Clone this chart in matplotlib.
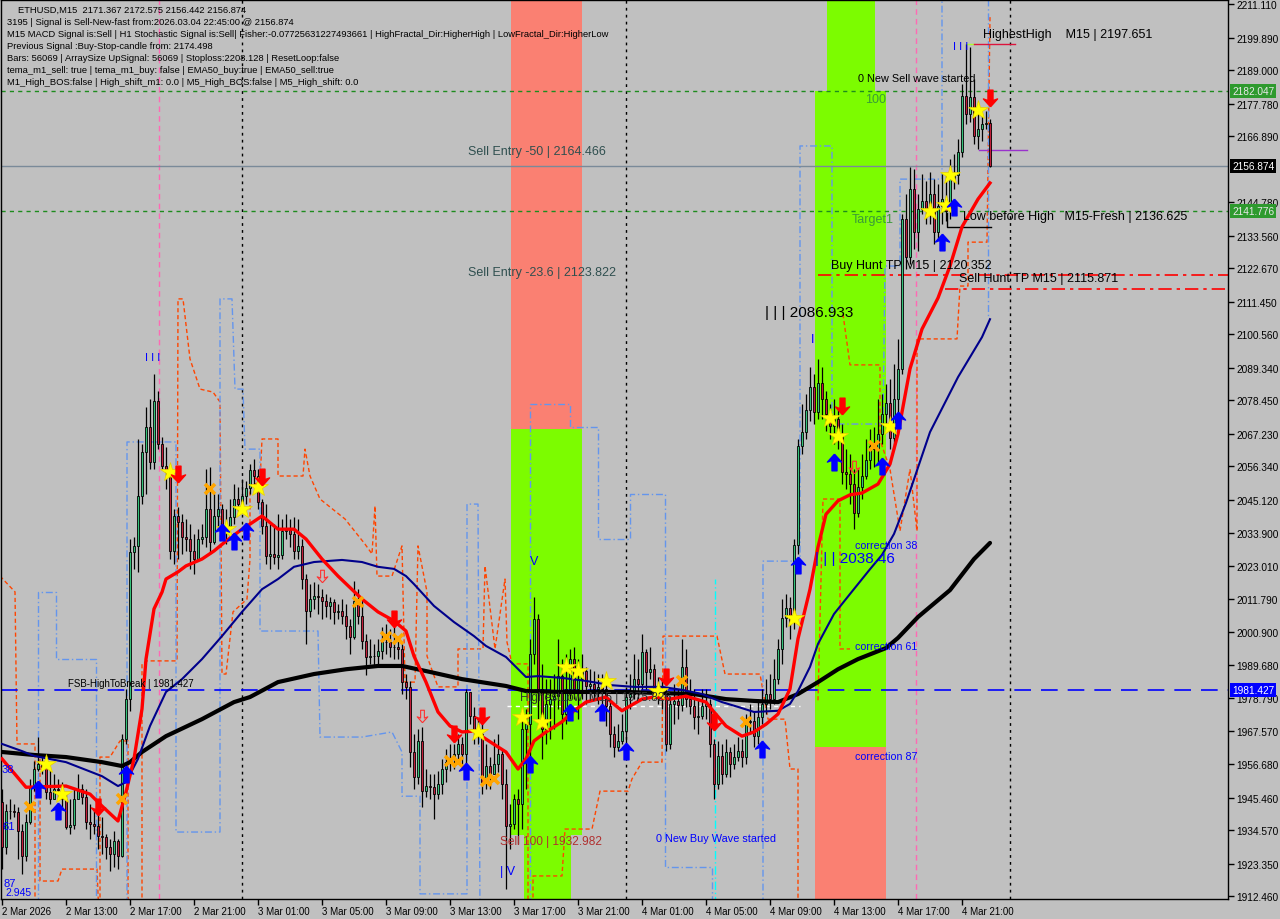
import numpy as np
import matplotlib.pyplot as plt
from matplotlib.path import Path
from matplotlib.patches import Rectangle

plt.rcParams['font.family'] = ['Liberation Sans', 'DejaVu Sans']

# --- candles (ETHUSD M15), bar 0 = 2 Mar 09:00 ---
first_open = 1943.9
last_open = 2171.367
closes = [
    1928.9, 1940.9, 1940.9, 1940.6, 1934.2, 1925.9, 1937.3, 1949.3, 1955.0, 1956.7,
    1955.7, 1947.3, 1945.0, 1948.3, 1948.0, 1945.0, 1935.6, 1936.3, 1945.0, 1948.3,
    1945.6, 1937.3, 1936.6, 1935.9, 1932.6, 1932.2, 1928.9, 1926.5, 1930.9, 1925.9,
    1965.0, 1978.4, 2027.7, 2029.7, 2046.4, 2061.1, 2069.5, 2057.8, 2078.2, 2063.8,
    2056.4, 2054.4, 2028.0, 2039.7, 2037.7, 2032.7, 2032.0, 2028.0, 2025.3, 2032.0,
    2032.7, 2042.0, 2031.0, 2039.7, 2042.0, 2035.3, 2036.4, 2039.4, 2045.4, 2043.7,
    2046.4, 2049.1, 2055.1, 2053.1, 2044.4, 2036.4, 2026.3, 2027.0, 2026.0, 2026.7,
    2034.7, 2035.0, 2033.7, 2028.0, 2029.7, 2018.6, 2007.9, 2011.9, 2012.9, 2012.6,
    2011.2, 2009.6, 2010.9, 2007.6, 2007.9, 2006.2, 2002.9, 1999.2, 2011.2, 2006.2,
    1997.9, 1992.5, 1992.8, 1992.8, 1994.5, 1997.5, 1997.5, 1995.8, 1995.8, 1995.2,
    1984.1, 1982.5, 1960.7, 1952.3, 1964.4, 1947.6, 1949.3, 1949.0, 1946.6, 1950.0,
    1955.0, 1957.3, 1958.4, 1960.0, 1963.4, 1960.0, 1980.8, 1972.7, 1967.4, 1966.7,
    1950.6, 1956.0, 1953.3, 1956.7, 1960.0, 1950.0, 1935.9, 1936.6, 1945.0, 1943.3,
    1968.4, 1970.1, 1993.5, 2005.2, 1981.8, 1968.4, 1976.8, 1978.4, 1979.4, 1986.1,
    1973.4, 1981.8, 1991.8, 1981.8, 1985.1, 1987.8, 1982.8, 1983.4, 1981.8, 1982.5,
    1981.8, 1976.1, 1966.7, 1962.4, 1964.4, 1967.7, 1979.1, 1980.1, 1985.1, 1983.4,
    1994.2, 1987.5, 1988.5, 1981.8, 1981.1, 1980.1, 1963.4, 1976.8, 1977.8, 1976.4,
    1989.2, 1978.4, 1976.1, 1972.4, 1972.7, 1976.1, 1976.8, 1963.4, 1950.0, 1959.4,
    1953.3, 1960.7, 1956.7, 1959.0, 1961.0, 1959.0, 1970.7, 1971.1, 1966.0, 1972.4,
    1976.8, 1980.1, 1978.4, 1985.1, 1995.2, 2005.6, 2008.9, 2004.2, 2030.0, 2063.1,
    2067.8, 2075.2, 2082.9, 2074.5, 2084.2, 2078.9, 2073.9, 2069.8, 2072.2, 2066.5,
    2054.4, 2053.8, 2050.4, 2040.7, 2049.4, 2053.1, 2058.5, 2063.1, 2062.1, 2067.2,
    2073.9, 2077.5, 2065.8, 2078.9, 2088.9, 2139.1, 2126.4, 2149.2, 2134.8, 2142.5,
    2145.2, 2142.5, 2147.5, 2134.8, 2143.5, 2145.8, 2141.8, 2152.5, 2153.9, 2161.6,
    2180.3, 2174.3, 2180.0, 2167.0, 2169.3, 2171.0, 2171.367, 2156.874]
highs = [
    1948.3, 1943.3, 1945.0, 1943.3, 1942.3, 1936.6, 1939.9, 1951.7, 1957.7, 1965.7,
    1960.0, 1958.4, 1955.0, 1953.3, 1951.7, 1950.6, 1946.6, 1945.0, 1948.3, 1953.3,
    1949.9, 1948.3, 1943.3, 1941.6, 1940.9, 1938.9, 1933.3, 1931.6, 1934.3, 1931.6,
    1966.7, 1981.8, 2032.0, 2032.7, 2065.5, 2063.8, 2076.2, 2078.9, 2087.2, 2081.5,
    2066.2, 2062.8, 2056.1, 2042.0, 2042.7, 2040.3, 2038.7, 2037.0, 2033.7, 2035.3,
    2037.0, 2055.4, 2056.1, 2047.1, 2047.1, 2043.8, 2042.0, 2045.4, 2050.4, 2049.4,
    2052.1, 2051.4, 2057.1, 2058.8, 2055.4, 2045.4, 2043.8, 2037.0, 2037.0, 2040.3,
    2038.7, 2040.3, 2038.7, 2039.3, 2038.7, 2032.0, 2020.3, 2016.9, 2017.6, 2016.9,
    2015.2, 2013.6, 2012.6, 2011.9, 2010.2, 2011.9, 2010.2, 2005.2, 2017.9, 2015.2,
    2011.9, 2000.2, 1998.6, 1996.9, 1998.6, 2002.6, 2003.6, 2001.9, 2002.6, 1998.6,
    1996.9, 1986.8, 1984.5, 1966.7, 1968.4, 1969.1, 1955.0, 1953.3, 1953.3, 1954.4,
    1958.4, 1961.7, 1963.4, 1963.4, 1966.7, 1965.7, 1981.8, 1980.1, 1975.8, 1971.7,
    1971.0, 1963.4, 1959.0, 1965.0, 1966.7, 1961.7, 1955.0, 1943.3, 1946.6, 1948.3,
    1971.7, 1975.1, 1998.6, 2012.6, 2006.9, 1990.1, 1985.1, 1985.1, 1986.8, 1998.6,
    1991.8, 1993.5, 1995.1, 1995.8, 1991.8, 1993.5, 1989.1, 1988.4, 1987.8, 1986.8,
    1986.8, 1985.1, 1978.4, 1969.4, 1970.0, 1973.4, 1982.5, 1986.8, 1993.5, 1991.8,
    2000.2, 1995.1, 1995.8, 1990.1, 1985.8, 1985.1, 1981.8, 1979.4, 1983.5, 1981.8,
    1998.6, 1995.1, 1985.1, 1981.8, 1978.4, 1981.8, 1981.8, 1978.4, 1965.0, 1964.4,
    1963.4, 1965.0, 1962.4, 1963.4, 1965.7, 1965.0, 1973.4, 1976.7, 1974.5, 1978.4,
    1981.8, 1985.1, 1986.8, 1991.8, 1998.6, 2011.9, 2013.6, 2012.6, 2032.0, 2065.5,
    2077.2, 2080.5, 2089.6, 2087.2, 2092.3, 2089.6, 2081.5, 2077.2, 2078.9, 2075.5,
    2070.5, 2062.1, 2060.4, 2055.4, 2055.4, 2060.4, 2065.5, 2068.9, 2069.5, 2078.9,
    2080.5, 2083.9, 2085.5, 2090.6, 2099.0, 2140.8, 2147.5, 2156.6, 2155.9, 2147.5,
    2154.2, 2151.8, 2154.9, 2152.5, 2150.8, 2154.2, 2154.2, 2159.3, 2160.9, 2165.9,
    2184.4, 2197.651, 2196.7, 2186.0, 2175.9, 2174.3, 2175.3, 2172.575]
lows = [
    1921.5, 1926.5, 1938.3, 1938.9, 1924.8, 1919.8, 1924.2, 1936.6, 1947.6, 1954.4,
    1953.3, 1945.0, 1943.3, 1945.6, 1945.0, 1941.6, 1934.9, 1933.3, 1934.9, 1945.0,
    1943.3, 1934.9, 1931.6, 1933.3, 1928.2, 1926.5, 1924.8, 1920.8, 1922.2, 1921.5,
    1925.5, 1963.4, 1974.5, 2022.0, 2021.0, 2043.8, 2047.1, 2055.4, 2055.4, 2062.1,
    2055.4, 2048.8, 2025.3, 2023.7, 2025.3, 2027.0, 2028.0, 2022.0, 2020.3, 2024.7,
    2030.3, 2029.3, 2027.0, 2030.3, 2035.3, 2032.0, 2030.3, 2036.0, 2037.0, 2041.4,
    2043.8, 2043.8, 2047.1, 2050.4, 2042.0, 2033.7, 2023.7, 2022.0, 2023.7, 2022.0,
    2025.3, 2032.0, 2029.3, 2025.3, 2025.3, 2015.2, 1996.9, 2005.9, 2008.6, 2006.9,
    2005.2, 2005.9, 2005.2, 2003.6, 2005.2, 2003.6, 1998.6, 1993.5, 1998.6, 2003.6,
    1995.1, 1986.5, 1990.1, 1989.1, 1990.1, 1991.8, 1993.5, 1992.5, 1991.8, 1991.8,
    1980.1, 1978.4, 1955.7, 1948.3, 1949.9, 1942.3, 1945.6, 1945.0, 1938.3, 1945.0,
    1946.6, 1950.6, 1954.4, 1955.0, 1956.7, 1955.0, 1956.7, 1970.0, 1963.4, 1963.4,
    1946.6, 1948.3, 1948.3, 1954.4, 1954.0, 1945.0, 1914.8, 1928.2, 1934.9, 1929.9,
    1934.9, 1948.3, 1958.4, 1990.1, 1971.7, 1958.4, 1963.4, 1965.0, 1968.4, 1975.1,
    1965.0, 1970.0, 1978.4, 1978.4, 1971.7, 1978.4, 1976.7, 1978.4, 1978.4, 1976.7,
    1974.5, 1969.4, 1962.4, 1959.0, 1961.0, 1963.4, 1963.4, 1975.1, 1978.4, 1978.4,
    1981.8, 1981.8, 1985.1, 1978.4, 1976.7, 1975.1, 1961.0, 1961.7, 1970.0, 1971.7,
    1974.5, 1975.8, 1973.4, 1968.4, 1966.7, 1971.7, 1971.7, 1959.0, 1945.0, 1948.3,
    1949.9, 1952.3, 1952.3, 1955.0, 1957.7, 1955.7, 1956.7, 1966.7, 1962.4, 1963.4,
    1970.0, 1973.4, 1975.1, 1976.7, 1983.5, 1990.1, 2002.6, 1998.6, 2001.9, 2027.0,
    2060.4, 2065.5, 2071.5, 2070.5, 2072.2, 2072.2, 2068.2, 2065.5, 2063.8, 2062.1,
    2050.4, 2048.8, 2043.8, 2035.3, 2039.3, 2045.4, 2052.1, 2055.4, 2056.1, 2057.1,
    2063.8, 2070.5, 2062.1, 2062.1, 2072.2, 2087.2, 2122.4, 2124.1, 2129.1, 2128.4,
    2140.8, 2137.5, 2137.5, 2130.7, 2132.4, 2137.5, 2138.5, 2139.1, 2149.2, 2150.8,
    2159.9, 2170.9, 2171.6, 2164.3, 2162.6, 2165.3, 2169.3, 2156.442]

# --- moving averages (sampled at bars) ---
ma_fast_bars = [0, 6, 16, 22, 25, 29, 31, 33, 35, 36, 38, 40, 41, 44, 46, 50, 53, 56, 60, 62,
                65, 69, 73, 76, 80, 84, 90, 94, 98, 101, 103, 106, 109, 112, 115, 118, 121, 124,
                126, 129, 131, 133, 136, 140, 143, 146, 151, 153, 155, 157, 160, 163, 167, 171,
                176, 178, 181, 185, 188, 191, 194, 197, 199, 202, 204, 206, 209, 212, 215, 219,
                222, 224, 227, 230, 234, 237, 240, 244, 247]
ma_fast_vals = [1958.4, 1948.9, 1949.3, 1946.6, 1942.6, 1937.6, 1947.3, 1958.4, 1975.1, 1991.8,
                2008.6, 2014.2, 2018.6, 2021.0, 2023.0, 2025.3, 2028.0, 2031.3, 2035.3, 2037.0,
                2039.7, 2035.3, 2035.3, 2032.0, 2025.3, 2019.6, 2011.9, 2007.6, 2004.6, 2001.2,
                1992.8, 1984.1, 1974.1, 1969.4, 1967.4, 1967.7, 1965.0, 1962.4, 1960.7, 1955.0,
                1958.4, 1964.4, 1967.4, 1970.8, 1974.5, 1977.4, 1979.1, 1976.7, 1974.5, 1976.1,
                1978.4, 1979.1, 1978.4, 1979.4, 1977.4, 1974.1, 1969.4, 1966.0, 1967.4, 1970.0,
                1973.4, 1981.8, 1998.6, 2015.2, 2029.3, 2040.3, 2044.8, 2046.8, 2047.4, 2050.4,
                2057.1, 2067.2, 2089.0, 2102.3, 2112.7, 2123.4, 2136.5, 2145.8, 2151.2]
ma50_bars = [0, 5, 8, 16, 25, 29, 31, 34, 37, 41, 45, 50, 55, 60, 65, 69, 73, 78, 85, 90, 94,
             98, 101, 103, 108, 113, 118, 121, 126, 131, 134, 140, 146, 152, 158, 165, 170,
             175, 180, 184, 188, 194, 197, 199, 202, 204, 208, 212, 217, 220, 223, 226, 232,
             239, 245, 247]
ma50_vals = [1963.4, 1961.0, 1959.4, 1957.3, 1952.6, 1949.3, 1950.6, 1958.4, 1969.4, 1980.8,
             1985.1, 1991.8, 1999.5, 2007.6, 2015.2, 2018.6, 2022.7, 2024.3, 2025.0, 2024.3,
             2022.7, 2022.0, 2019.6, 2016.9, 2009.6, 2004.2, 1999.5, 1996.2, 1992.5, 1985.8,
             1986.1, 1985.5, 1984.5, 1983.1, 1982.5, 1982.5, 1981.5, 1980.1, 1977.4, 1975.8,
             1974.1, 1974.5, 1976.8, 1981.1, 1989.2, 1996.9, 2006.9, 2013.6, 2021.9, 2026.7,
             2033.7, 2044.1, 2067.8, 2086.2, 2099.6, 2105.6]
ma200_bars = [0, 8, 16, 25, 30, 32, 35, 41, 50, 58, 62, 69, 78, 86, 94, 100, 107, 115, 126,
              131, 140, 156, 173, 181, 188, 194, 199, 204, 209, 214, 221, 224, 229, 237, 243, 247]
ma200_vals = [1960.7, 1959.7, 1959.0, 1957.3, 1956.0, 1957.3, 1960.7, 1966.0, 1971.7, 1977.4,
              1979.1, 1984.1, 1986.8, 1988.4, 1989.5, 1989.5, 1987.5, 1985.1, 1982.8, 1981.1,
              1980.8, 1980.8, 1980.1, 1978.4, 1977.8, 1977.4, 1980.1, 1984.1, 1988.4, 1991.8,
              1995.5, 1998.9, 2005.9, 2014.9, 2025.3, 2030.7]

# --- stepped channel indicators: (bar, price) vertices, several sections each ---
orange_sections = [
    [(-0.5, 2019.6), (3.25, 2014.3), (3.75, 1963.4), (8.25, 1963.4), (8.25, 1905)],
    [(9.5, 1958.4), (9.5, 1917.5), (14, 1917.5), (15, 1921.5), (23.75, 1921.5), (24.25, 1905)],
    [(24.5, 1905), (24.5, 1959.0), (27, 1959.0), (29.5, 1964.4), (31.5, 1964.4), (31.5, 1905)],
    [(35, 1905), (35, 1990.2), (36.25, 1991.2), (43.75, 1991.2), (44, 2112.4), (45.25, 2112.4),
     (47, 2092.3), (49.5, 2082.2), (52.75, 2081.2), (54.5, 2077.9), (55, 1986.8), (56, 1986.8),
     (57.75, 2007.6), (61.25, 2011.9), (62, 2025.3), (62, 2049.7), (64.5, 2051.1), (65, 2065.5),
     (69, 2065.5), (69, 2053.1), (75.25, 2053.1), (75.75, 2062.1), (77, 2053.1), (79.5, 2045.4),
     (85.75, 2038.7), (90.75, 2030.3), (92.5, 2027.0), (93.25, 2043.1), (93.75, 2019.6),
     (97.5, 2019.6), (100, 2029.7), (100.75, 1984.1), (103.25, 1984.1), (104, 2029.7),
     (106.25, 2014.3), (106.25, 1992.8), (109, 1982.5), (114, 1982.5), (114, 1995.2),
     (120.25, 1995.2), (120.75, 2023.0), (123.25, 1995.2), (125.75, 2018.6), (126.25, 1997.5),
     (127.5, 1990.2), (131.5, 1990.2), (131.5, 1905)],
    [(132.75, 1905), (132.75, 1919.2), (140, 1919.2), (140.75, 1934.9), (147.5, 1934.9),
     (149.5, 1947.6), (156.5, 1947.6), (157.5, 1951.7), (160, 1957.3), (165, 1957.3),
     (165.25, 1999.5), (178.75, 1999.5), (180.75, 1986.8), (189.5, 1986.8), (191.5, 1971.7),
     (195.75, 1971.7), (197, 1955.0), (199, 1955.0), (199, 1905)],
    [(204, 1978.0), (205.25, 2045.4), (209.5, 2045.4), (209.5, 1995.2), (212, 1995.2)],
    [(210.25, 2107.3), (212, 2090.3), (219.5, 2090.3), (219.5, 2065.2), (222, 2055.4),
     (224.5, 2034.7), (227, 2055.4), (228.75, 2034.7), (228.75, 2099.0), (238.75, 2099.0),
     (239.5, 2116.7), (241.5, 2116.7), (241.5, 2131.4), (246.25, 2131.4), (247, 2207.1)],
]
blue_sections = [
    [(9, 1905), (9, 2014.3), (13.5, 2014.3), (13.5, 1991.8), (23.5, 1991.8), (23.5, 1905)],
    [(31.25, 1905), (31.25, 2064.5), (43.5, 2064.5), (43.5, 1933.9), (54.5, 1933.9),
     (54.5, 2112.4), (57.5, 2112.4), (58.25, 2082.2), (60.25, 2082.2), (60.75, 2062.1),
     (64.5, 2062.1), (64.5, 2001.2), (79, 2001.2), (79.5, 1965.7), (90, 1965.7), (97.5, 1967.4),
     (100, 1960.7), (100, 1945.9), (104.5, 1945.9), (104.5, 1913.2), (116.25, 1913.2),
     (116.25, 2043.7), (119, 2043.7), (119.5, 1905)],
    [(132, 1905), (132, 2077.2), (142, 2077.2), (142, 2069.5), (149, 2069.5), (149, 2032.0),
     (157, 2032.0), (157, 2047.1), (165.75, 2047.1), (165.75, 1922.2), (177.5, 1922.2),
     (177.5, 1905)],
    [(190.25, 1905), (190.25, 2024.6), (199.5, 2024.6), (199.5, 2163.6), (207.5, 2163.6),
     (207.5, 2070.5), (220.25, 2070.5), (220.75, 2123.4), (224.5, 2123.4), (224.5, 2152.5),
     (235, 2152.5), (235, 2215)],
    [(246.5, 2215), (246.5, 2106.3)],
]

# --- signal markers ---
star_bars = [11, 15, 42, 56, 60, 64, 119, 130, 135, 141, 144, 151, 164, 198, 207, 209, 222, 232, 236, 237, 244]
star_prices = [1956.7, 1946.6, 2054.4, 2035.3, 2042.0, 2049.4, 1967.4, 1972.4, 1970.8, 1989.1,
               1987.8, 1984.5, 1981.1, 2005.6, 2072.5, 2066.5, 2069.8, 2141.8, 2143.8, 2153.9, 2175.6]
up_bars = [9, 14, 31, 55, 58, 61, 116, 132, 142, 150, 156, 190, 199, 208, 220, 224, 235, 238]
up_prices = [1948.3, 1940.9, 1953.3, 2034.3, 2031.3, 2034.7, 1954.4, 1956.7, 1974.1, 1974.1,
             1961.0, 1961.7, 2023.3, 2057.8, 2056.4, 2071.9, 2131.4, 2143.1]
down_bars = [24, 44, 65, 98, 113, 120, 166, 178, 210, 247]
down_prices = [1942.3, 2053.7, 2052.7, 2005.2, 1966.7, 1972.7, 1985.8, 1970.8, 2076.5, 2179.6]
cross_bars = [7, 30, 52, 89, 96, 99, 112, 114, 121, 123, 170, 186, 218]
cross_prices = [1942.3, 1945.0, 2048.8, 2011.0, 1999.2, 1998.6, 1957.7, 1957.3, 1951.0, 1951.6,
                1984.5, 1970.8, 2063.1]
hollow_bars = [80, 105, 213]
hollow_prices = [2019.6, 1972.7, 2056.1]

# --- axes labels ---
time_ticks = list(range(0, 241, 16))
time_labels = ["2 Mar 2026", "2 Mar 13:00", "2 Mar 17:00", "2 Mar 21:00", "3 Mar 01:00",
               "3 Mar 05:00", "3 Mar 09:00", "3 Mar 13:00", "3 Mar 17:00", "3 Mar 21:00",
               "4 Mar 01:00", "4 Mar 05:00", "4 Mar 09:00", "4 Mar 13:00", "4 Mar 17:00",
               "4 Mar 21:00"]
price_ticks = [2211.110, 2199.890, 2189.000, 2177.780, 2166.890, 2144.780, 2133.560, 2122.670,
               2111.450, 2100.560, 2089.340, 2078.450, 2067.230, 2056.340, 2045.120, 2033.900,
               2023.010, 2011.790, 2000.900, 1989.680, 1978.790, 1967.570, 1956.680, 1945.460,
               1934.570, 1923.350, 1912.460]
day_breaks = [60, 156, 252]

# --- levels / zones ---
bid = 2156.874
green_levels = [2182.047, 2141.776]
fsb_level = 1981.427
buy_hunt_tp = 2120.352
sell_hunt_tp = 2115.871
highest_high = 2197.651
low_before_high = 2136.625
zones = [  # (bar_from, bar_to, price_lo, price_hi, colour)
    (127.25, 145.0, 2068.9, 2215.0, '#FA8072'),
    (127.25, 145.0, 1932.982, 2068.9, '#7CFC00'),
    (130.5, 142.25, 1900.0, 1932.982, '#7CFC00'),
    (206.25, 218.25, 2182.047, 2215.0, '#7CFC00'),
    (203.25, 221.0, 1962.4, 2182.047, '#7CFC00'),
    (203.25, 221.0, 1900.0, 1962.4, '#FA8072'),
]

# ================= figure =================
W, H = 1280, 920
fig = plt.figure(figsize=(W / 100, H / 100), dpi=100, facecolor='#C0C0C0')
ax = fig.add_axes([1 / W, 20 / H, 1227 / W, 899 / H])
ax.set_facecolor('#C0C0C0')
ax.set_xlim(-0.25, 306.5)
ax.set_ylim(1911.48, 2212.47)


def px(x, y):
    return x / W, 1 - y / H


for b0, b1, p0, p1, col in zones:
    ax.add_patch(Rectangle((b0, p0), b1 - b0, p1 - p0, facecolor=col, edgecolor='none', zorder=0.5))

for d in day_breaks:
    ax.axvline(d, color='black', lw=1, ls=(0, (2, 3)), zorder=1)
for vb in [39.25, 228.5]:
    ax.axvline(vb, color='#FF69B4', lw=1, ls=(0, (4, 3)), zorder=1)
ax.plot([178.25, 178.25], [1900, 2018.6], color='#00FFFF', lw=1, ls=(0, (6, 2, 1, 2)), zorder=1)

for sec in orange_sections:
    sb, sp = zip(*sec)
    ax.plot(sb, sp, color='#FF4500', lw=1, ls=(0, (3, 2)), zorder=1.2)
for sec in blue_sections:
    sb, sp = zip(*sec)
    ax.plot(sb, sp, color='#6495ED', lw=1, ls=(0, (5, 2, 1, 2)), zorder=1.2)

for lv in green_levels:
    ax.axhline(lv, color='#1E8C1E', lw=1, ls=(0, (3, 3)), zorder=1.5)
ax.axhline(bid, color='#7A8A99', lw=1, zorder=1.5)
ax.axhline(fsb_level, color='#0000FF', lw=1.2, ls=(0, (10, 6)), zorder=1.5)
ax.plot([126.25, 199.5], [1976.1, 1976.1], color='white', lw=1, ls=(0, (3, 3)), zorder=1.5)
ax.plot([204, 306.5], [buy_hunt_tp] * 2, color='#FF0000', lw=1.2, ls=(0, (8, 3, 2, 3)), zorder=1.5)
ax.plot([235.75, 306.5], [sell_hunt_tp] * 2, color='#FF0000', lw=1.2, ls=(0, (8, 3, 2, 3)), zorder=1.5)
ax.plot([241, 243], [highest_high] * 2, color='#ADFF2F', lw=1, zorder=1.5)
ax.plot([243, 253.25], [highest_high] * 2, color='#DC143C', lw=1, zorder=1.5)
ax.plot([236.25, 236.25, 247.25], [2141.3, low_before_high, low_before_high], color='black', lw=1, zorder=1.5)
ax.plot([244.25, 256.25], [2162.2, 2162.2], color='#9932CC', lw=1, zorder=1.5)

# candles
o = np.array([first_open] + closes[:-1])
o[-1] = last_open
c = np.array(closes)
h = np.maximum(np.array(highs), np.maximum(o, c))
l = np.minimum(np.array(lows), np.minimum(o, c))
x = np.arange(len(c))
ax.vlines(x, l, h, color='black', lw=0.9, zorder=3)
body_col = np.where(c >= o, '#35C27A', '#C21E3A')
ax.bar(x, c - o, bottom=o, width=0.6, color=body_col, edgecolor='black', lw=0.6, zorder=3.2)

# moving averages
ax.plot(ma200_bars, ma200_vals, color='black', lw=3.0, zorder=4, solid_capstyle='round')
ax.plot(ma50_bars, ma50_vals, color='#00008B', lw=1.5, zorder=4)
ax.plot(ma_fast_bars, ma_fast_vals, color='#FF0000', lw=2.4, zorder=4.2, solid_joinstyle='round')

# markers
up_arrow = Path([(0, 1), (-0.85, 0.05), (-0.3, 0.25), (-0.3, -1), (0.3, -1), (0.3, 0.25),
                 (0.85, 0.05), (0, 1)])
down_arrow = Path([(0, -1), (-0.85, -0.05), (-0.3, -0.25), (-0.3, 1), (0.3, 1), (0.3, -0.25),
                   (0.85, -0.05), (0, -1)])
ax.plot(cross_bars, cross_prices, ls='none', marker='x', ms=7, mew=2.6, color='#FFA500', zorder=5)
ax.plot(star_bars, star_prices, ls='none', marker='*', ms=15, color='#FFFF00', mec='#E8D000',
        mew=0.5, zorder=5.2)
ax.plot(up_bars, up_prices, ls='none', marker=up_arrow, ms=12, color='#0000FF', zorder=5.4)
ax.plot(down_bars, down_prices, ls='none', marker=down_arrow, ms=12, color='#FF0000', zorder=5.4)
ax.plot(hollow_bars, hollow_prices, ls='none', marker=down_arrow, ms=9, mfc='none', mec='#FF3030',
        mew=0.8, zorder=5.4)

# axes styling
for s in ax.spines.values():
    s.set_color('black')
    s.set_linewidth(1)
ax.yaxis.tick_right()
ax.set_yticks(price_ticks)
ax.set_yticklabels([f"{v:.3f}" for v in price_ticks])
ax.tick_params(axis='y', length=4, width=1, pad=2, labelsize=7.3, colors='black')
ax.set_xticks(time_ticks)
ax.set_xticklabels(time_labels)
ax.tick_params(axis='x', length=4, width=1, pad=1, labelsize=7.0, colors='black')
for lbl in ax.get_xticklabels():
    lbl.set_ha('left')

yx = ax.get_yaxis_transform()
for val, bg, fg in [(2182.047, '#2E9A2E', '#E8E8E8'), (2141.776, '#2E9A2E', '#E8E8E8'),
                    (bid, 'black', 'white'), (fsb_level, '#0000FF', 'white')]:
    ax.text(1.0035, val, f"{val:.3f}", transform=yx, ha='left', va='center', fontsize=7.3,
            color=fg, zorder=10, clip_on=False,
            bbox=dict(boxstyle='square,pad=0.18', fc=bg, ec='none'))

# info block
info = ["3195 | Signal is Sell-New-fast from:2026.03.04 22:45:00 @ 2156.874",
        "M15 MACD Signal is:Sell | H1 Stochastic Signal is:Sell| Fisher:-0.07725631227493661 | "
        "HighFractal_Dir:HigherHigh | LowFractal_Dir:HigherLow",
        "Previous Signal :Buy-Stop-candle from: 2174.498",
        "Bars: 56069 | ArraySize UpSignal: 56069 | Stoploss:2208.128 | ResetLoop:false",
        "tema_m1_sell: true | tema_m1_buy: false | EMA50_buy:true | EMA50_sell:true",
        "M1_High_BOS:false | High_shift_m1: 0.0 | M5_High_BOS:false | M5_High_shift: 0.0"]
fig.text(*px(18, 10.5), "ETHUSD,M15  2171.367 2172.575 2156.442 2156.874", fontsize=6.72,
         va='center', ha='left', color='black')
for i, line in enumerate(info):
    fig.text(*px(7, 22.5 + 12 * i), line, fontsize=6.72, va='center', ha='left', color='black')

labels = [
    ("Sell Entry -50 | 2164.466", 468, 152, '#2F4F4F', 9.0),
    ("Sell Entry -23.6 | 2123.822", 468, 273, '#2F4F4F', 9.0),
    ("HighestHigh    M15 | 2197.651", 983, 35, 'black', 9.0),
    ("0 New Sell wave started", 858, 79, 'black', 7.8),
    ("100", 865, 100, '#3A9A3A', 9.0),
    ("Target1", 852, 220, '#3A9A3A', 9.0),
    ("Low before High   M15-Fresh | 2136.625", 963, 217, 'black', 9.0),
    ("Buy Hunt TP M15 | 2120.352", 831, 266, 'black', 9.0),
    ("Sell Hunt TP M15 | 2115.871", 959, 279, 'black', 9.0),
    ("| | | 2086.933", 765, 313, 'black', 11.0),
    ("I", 811, 340, '#0000FF', 9.0),
    ("| | | 2038.46", 815, 559, '#0000FF', 11.0),
    ("correction 38", 855, 546, '#0000FF', 7.7),
    ("correction 61", 855, 647, '#0000FF', 7.7),
    ("correction 87", 855, 757, '#0000FF', 7.7),
    ("0 New Buy Wave started", 656, 839, '#0000FF', 7.8),
    ("Sell 100 | 1932.982", 500, 842, '#B03030', 8.6),
    ("| V", 500, 872, '#0000FF', 9.0),
    ("V", 530, 562, '#0000FF', 9.0),
    ("I I I", 145, 358, '#0000FF', 8.0),
    ("I I I", 953, 47, '#0000FF', 8.0),
    ("FSB-HighToBreak | 1981.427", 68, 684, 'black', 7.0),
    ("HighestLow  M15 | 1975.826", 520, 698, '#303030', 8.6),
    ("38", 2, 770, '#0000FF', 8.0),
    ("61", 2, 827, '#0000FF', 8.0),
    ("87", 3, 884, '#0000FF', 8.0),
    ("2.945", 5, 893, '#0000FF', 7.5),
]
for txt, lx, ly, col, fs in labels:
    fig.text(*px(lx, ly), txt, fontsize=fs, color=col, ha='left', va='center', zorder=8)

fig.savefig('out.png', dpi=100, facecolor=fig.get_facecolor())
